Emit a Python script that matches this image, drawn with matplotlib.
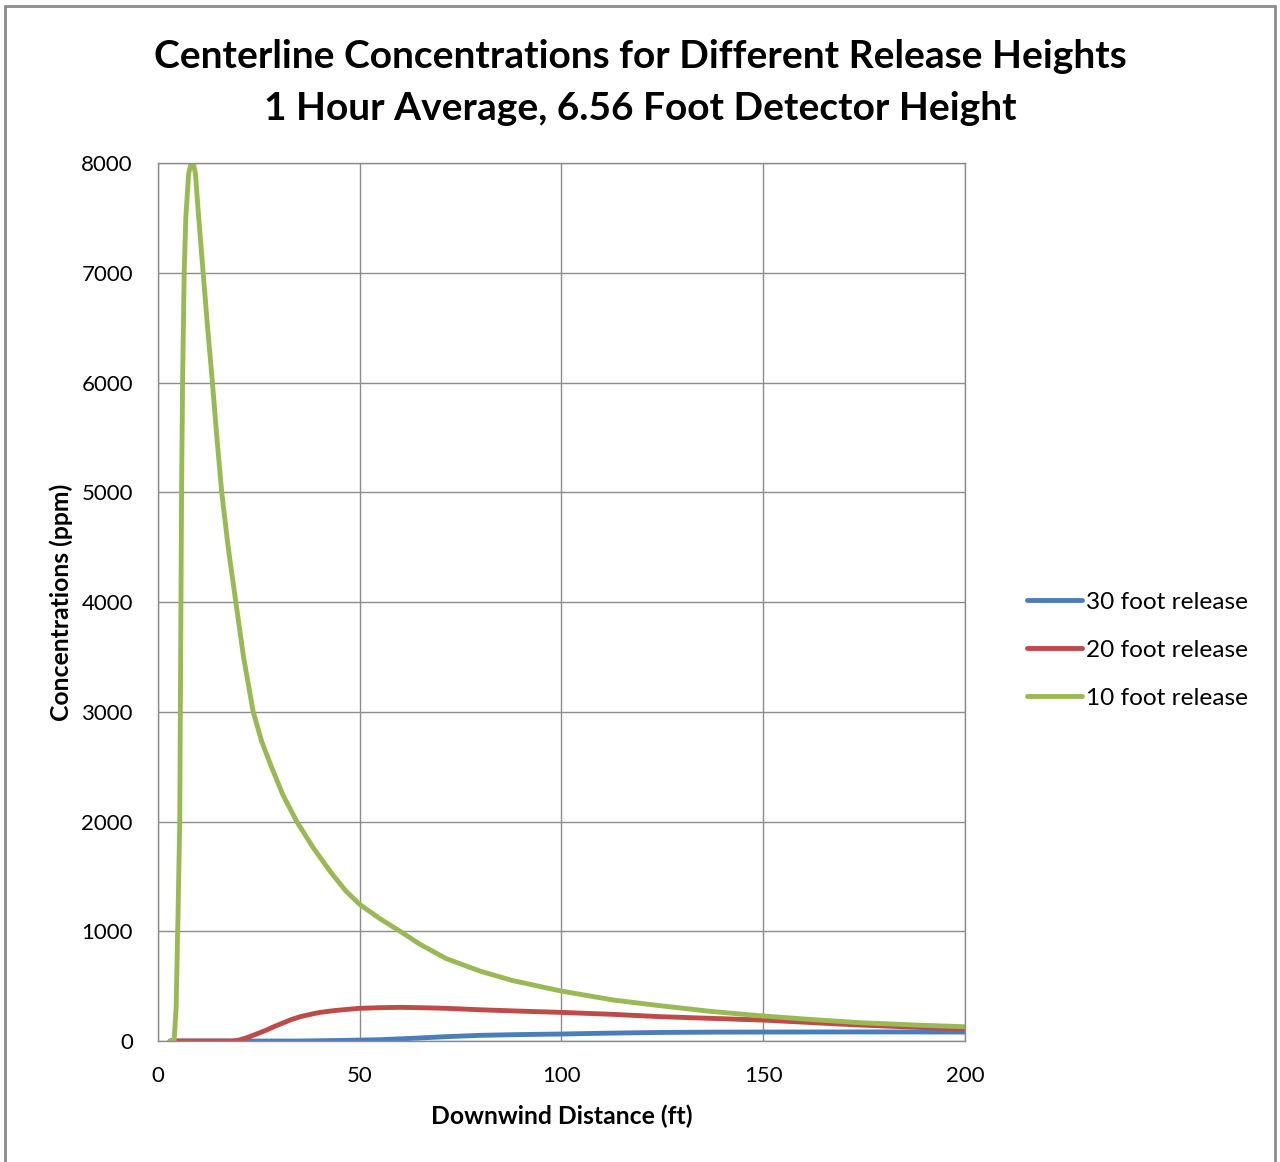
import numpy as np
import matplotlib.pyplot as plt
from matplotlib.patches import Rectangle

plt.rcParams['font.family'] = ['Lato', 'DejaVu Sans']

# ----- data -----
x_30 = [3, 35, 45, 55, 65, 71.5, 80, 90, 100, 112, 124, 137, 150, 175, 200]
c_30 = [0, 0, 5, 12, 28, 40, 52, 59, 64, 72, 78, 81, 82, 83, 82]

x_20 = [3, 18.5, 20, 22, 24.5, 26.9, 29, 31, 33, 35.2, 38, 40, 43.4, 47, 50, 55, 60,
        65, 71.5, 79.8, 90, 100, 112.8, 124.4, 129.4, 140, 150, 162, 174, 187, 200]
c_20 = [0, 0, 8, 30, 65, 100, 135, 165, 195, 221, 245, 260, 276, 289, 298, 304, 307,
        304, 298, 285, 272, 261, 243, 222, 216, 203, 191, 168, 146, 127, 109]

x_10 = [3, 4.0, 4.5, 5.0, 5.4, 5.55, 5.7, 5.85, 6.1, 6.5, 6.9, 7.6, 8.5, 9.3, 10.1,
        11.2, 12.3, 13.5, 14.6, 15.8, 17.4, 19.3, 21.2, 23.6, 25.7, 28.1, 31, 34.4,
        38.5, 43.0, 46.5, 50, 55, 60, 65, 71.5, 80, 88, 100, 112.8, 124.4, 137,
        150, 162, 174, 187, 200]
c_10 = [0, 0, 300, 1200, 2000, 3000, 4000, 5000, 6000, 7000, 7500, 7900, 8050, 7900, 7500,
        7000, 6500, 6000, 5500, 5000, 4500, 4000, 3500, 3000, 2730, 2500, 2240, 2000,
        1760, 1530, 1370, 1245, 1115, 1000, 880, 750, 635, 550, 455, 374, 322, 270,
        228, 196, 167, 147, 130]

labels = ['30 foot release', '20 foot release', '10 foot release']
colors = ['#4A7EBB', '#BE4B48', '#98B954']

fig = plt.figure(figsize=(12.8, 11.62), dpi=100)
ax = fig.add_axes([0.1234, 0.1041, 0.6305, 0.7556])

style = dict(lw=3.5, solid_capstyle='round', solid_joinstyle='round')
ax.plot(x_30, c_30, color=colors[0], label=labels[0], **style)
ax.plot(x_20, c_20, color=colors[1], label=labels[1], **style)
ax.plot(x_10, c_10, color=colors[2], label=labels[2], **style)

ax.set_xlim(0, 200)
ax.set_ylim(0, 8000)
ax.set_xticks(np.arange(0, 201, 50))
ax.set_yticks(np.arange(0, 8001, 1000))
ax.grid(True, color='#8c8c8c', lw=1)
ax.set_axisbelow(True)
for s in ax.spines.values():
    s.set_color('#8c8c8c')
    s.set_linewidth(1)
ax.tick_params(length=0, labelsize=16, colors='#000000', pad=18)
ax.tick_params(axis='y', pad=18)

ax.set_xlabel('Downwind Distance (ft)', fontsize=17.8, fontweight='bold', labelpad=13)
ax.set_ylabel('Concentrations (ppm)', fontsize=17.8, fontweight='bold', labelpad=6)

fig.text(0.5, 0.951, 'Centerline Concentrations for Different Release Heights',
         ha='center', va='center', fontsize=28, fontweight='bold')
fig.text(0.5, 0.907, '1 Hour Average, 6.56 Foot Detector Height',
         ha='center', va='center', fontsize=28, fontweight='bold')

ax.legend(loc='center left', bbox_to_anchor=(1.05, 0.445), frameon=False, fontsize=17.6,
          handlelength=2.25, handletextpad=0.16, labelspacing=1.1)

fig.add_artist(Rectangle((0.004, -0.05), 0.992, 1.045, transform=fig.transFigure,
                         fill=False, edgecolor='#8c8c8c', lw=2))

fig.savefig('out.png', dpi=100)
